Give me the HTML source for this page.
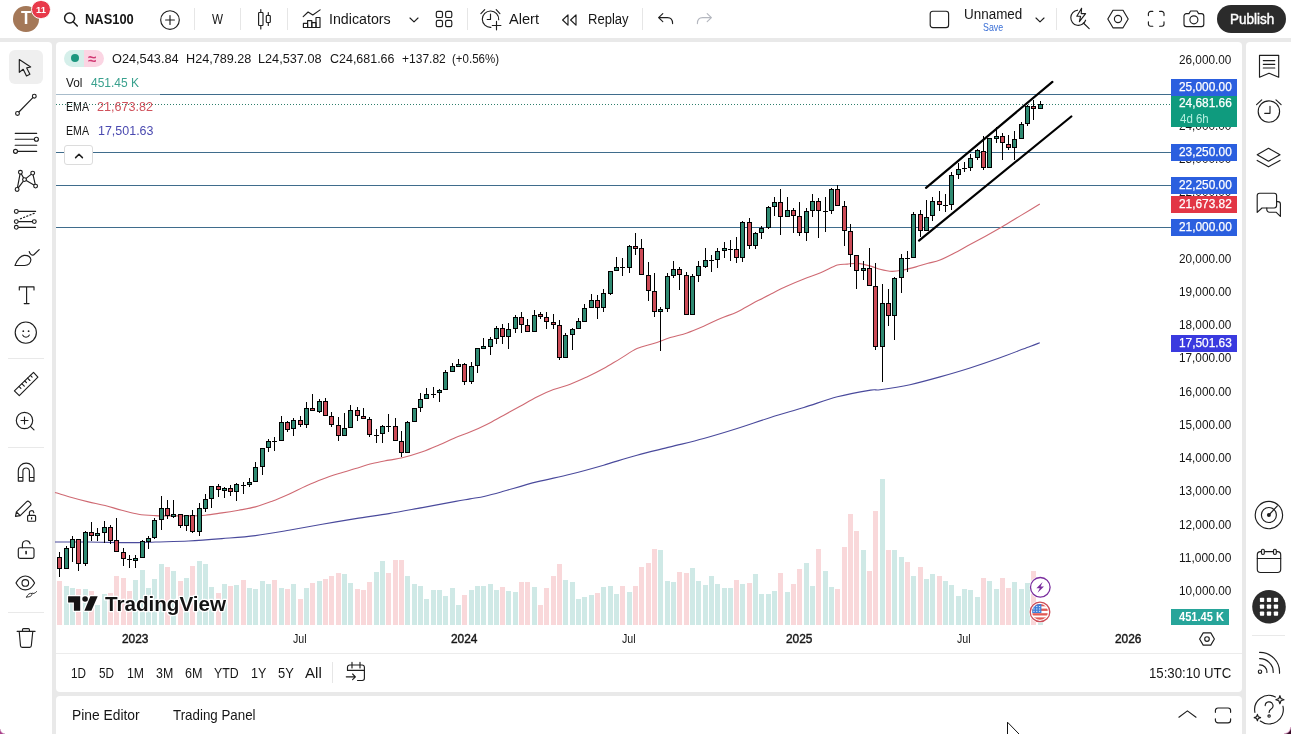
<!DOCTYPE html>
<html lang="en">
<head>
<meta charset="utf-8">
<title>NAS100 chart</title>
<style>
*{box-sizing:border-box;margin:0;padding:0}
html,body{width:1291px;height:734px;overflow:hidden;background:#e9e9e9}
body{position:relative;font-family:"Liberation Sans",sans-serif;color:#161616;font-size:14px}
.p{position:absolute;background:#fff}
.t{position:absolute;white-space:nowrap;line-height:1;transform:translateY(-50%)}
.sep{position:absolute;width:1px;background:#e6e6e6}
.hsep{position:absolute;height:1px;background:#e9e9e9}
svg{position:absolute;overflow:visible}
.ic{fill:none;stroke:#1e1e1e;stroke-width:1.15;stroke-linecap:round;stroke-linejoin:round}
.ax{position:absolute;white-space:nowrap;line-height:1;transform:translateY(-50%);font-size:12px;right:60px;color:#131722}
.lab{position:absolute;left:1171px;width:66px;height:17px;color:#fff;font-size:12px;line-height:17px;text-align:right;padding-right:5px;white-space:nowrap}
#t_sym{left:84.5px !important;transform:translateY(-50%) scaleX(0.9221);transform-origin:0 50%}
#t_w{left:212px !important;transform:translateY(-50%) scaleX(0.8322);transform-origin:0 50%}
#t_ind{left:329.3px !important;transform:translateY(-50%) scaleX(1.0164);transform-origin:0 50%}
#t_alert{left:509.3px !important;transform:translateY(-50%) scaleX(1.0418);transform-origin:0 50%}
#t_replay{left:587.7px !important;transform:translateY(-50%) scaleX(0.9313);transform-origin:0 50%}
#t_unnamed{left:963.7px !important;transform:translateY(-50%) scaleX(0.9604);transform-origin:0 50%}
#t_save{left:983.2px !important;transform:translateY(-50%) scaleX(0.8015);transform-origin:0 50%}
#t_publish{left:1229.8px !important;transform:translateY(-50%) scaleX(0.9625);transform-origin:0 50%}
#t_o{left:112.4px !important;transform:translateY(-50%) scaleX(0.9801);transform-origin:0 50%}
#t_h{left:185.6px !important;transform:translateY(-50%) scaleX(0.9727);transform-origin:0 50%}
#t_l{left:258px !important;transform:translateY(-50%) scaleX(0.9758);transform-origin:0 50%}
#t_c{left:329.5px !important;transform:translateY(-50%) scaleX(0.9593);transform-origin:0 50%}
#t_chg{left:402px !important;transform:translateY(-50%) scaleX(0.9248);transform-origin:0 50%}
#t_pct{left:451.8px !important;transform:translateY(-50%) scaleX(0.8847);transform-origin:0 50%}
#t_vol{left:65.6px !important;transform:translateY(-50%) scaleX(0.9072);transform-origin:0 50%}
#t_volv{left:91px !important;transform:translateY(-50%) scaleX(0.9222);transform-origin:0 50%}
#t_ema1{left:65.6px !important;transform:translateY(-50%) scaleX(0.8164);transform-origin:0 50%}
#t_ema1v{left:97.4px !important;transform:translateY(-50%) scaleX(0.9699);transform-origin:0 50%}
#t_ema2{left:65.6px !important;transform:translateY(-50%) scaleX(0.8164);transform-origin:0 50%}
#t_ema2v{left:98px !important;transform:translateY(-50%) scaleX(0.9595);transform-origin:0 50%}
#t_cd{left:1179.5px !important;transform:translateY(-50%) scaleX(0.9557);transform-origin:0 50%}
#t_lvol{left:1179.2px !important;transform:translateY(-50%) scaleX(0.9240);transform-origin:0 50%}
#t_y23{left:122px !important;transform:translateY(-50%) scaleX(0.9924);transform-origin:0 50%}
#t_j23{left:292.8px !important;transform:translateY(-50%) scaleX(0.8864);transform-origin:0 50%}
#t_y24{left:451px !important;transform:translateY(-50%) scaleX(0.9924);transform-origin:0 50%}
#t_j24{left:621.8px !important;transform:translateY(-50%) scaleX(0.8864);transform-origin:0 50%}
#t_y25{left:786.2px !important;transform:translateY(-50%) scaleX(0.9924);transform-origin:0 50%}
#t_j25{left:957.1px !important;transform:translateY(-50%) scaleX(0.8864);transform-origin:0 50%}
#t_y26{left:1115px !important;transform:translateY(-50%) scaleX(0.9924);transform-origin:0 50%}
#t_1d{left:70.5px !important;transform:translateY(-50%) scaleX(0.8377);transform-origin:0 50%}
#t_5d{left:98.5px !important;transform:translateY(-50%) scaleX(0.8377);transform-origin:0 50%}
#t_1m{left:126.7px !important;transform:translateY(-50%) scaleX(0.8739);transform-origin:0 50%}
#t_3m{left:155.5px !important;transform:translateY(-50%) scaleX(0.8842);transform-origin:0 50%}
#t_6m{left:184.5px !important;transform:translateY(-50%) scaleX(0.8996);transform-origin:0 50%}
#t_ytd{left:213.5px !important;transform:translateY(-50%) scaleX(0.8821);transform-origin:0 50%}
#t_1y{left:250.70000000000002px !important;transform:translateY(-50%) scaleX(0.8934);transform-origin:0 50%}
#t_5y{left:277.90000000000003px !important;transform:translateY(-50%) scaleX(0.9226);transform-origin:0 50%}
#t_all{left:304.7px !important;transform:translateY(-50%) scaleX(1.0795);transform-origin:0 50%}
#t_clock{left:1149px !important;transform:translateY(-50%) scaleX(0.9430);transform-origin:0 50%}
#t_pine{left:72.3px !important;transform:translateY(-50%) scaleX(0.9530);transform-origin:0 50%}
#t_tp{left:173.2px !important;transform:translateY(-50%) scaleX(0.9203);transform-origin:0 50%}
#t_p26{left:1179.2px !important;transform:translateY(-50%) scaleX(0.9814);transform-origin:0 50%}
#t_p24{left:1179.2px !important;transform:translateY(-50%) scaleX(0.9814);transform-origin:0 50%}
#t_p23{left:1179.2px !important;transform:translateY(-50%) scaleX(0.9814);transform-origin:0 50%}
#t_p22{left:1179.2px !important;transform:translateY(-50%) scaleX(0.9814);transform-origin:0 50%}
#t_p21{left:1179.2px !important;transform:translateY(-50%) scaleX(0.9814);transform-origin:0 50%}
#t_p20{left:1179.2px !important;transform:translateY(-50%) scaleX(0.9814);transform-origin:0 50%}
#t_p19{left:1179.2px !important;transform:translateY(-50%) scaleX(0.9814);transform-origin:0 50%}
#t_p18{left:1179.2px !important;transform:translateY(-50%) scaleX(0.9814);transform-origin:0 50%}
#t_p17{left:1179.2px !important;transform:translateY(-50%) scaleX(0.9814);transform-origin:0 50%}
#t_p16{left:1179.2px !important;transform:translateY(-50%) scaleX(0.9814);transform-origin:0 50%}
#t_p15{left:1179.2px !important;transform:translateY(-50%) scaleX(0.9814);transform-origin:0 50%}
#t_p14{left:1179.2px !important;transform:translateY(-50%) scaleX(0.9814);transform-origin:0 50%}
#t_p13{left:1179.2px !important;transform:translateY(-50%) scaleX(0.9814);transform-origin:0 50%}
#t_p12{left:1179.2px !important;transform:translateY(-50%) scaleX(0.9814);transform-origin:0 50%}
#t_p11{left:1179.2px !important;transform:translateY(-50%) scaleX(0.9981);transform-origin:0 50%}
#t_p10{left:1179.2px !important;transform:translateY(-50%) scaleX(0.9814);transform-origin:0 50%}
#t_l25{left:1179.3px !important;transform:translateY(-50%) scaleX(0.9889);transform-origin:0 50%}
#t_lcur{left:1179.3px !important;transform:translateY(-50%) scaleX(0.9889);transform-origin:0 50%}
#t_l2325{left:1179.3px !important;transform:translateY(-50%) scaleX(0.9889);transform-origin:0 50%}
#t_l2225{left:1179.3px !important;transform:translateY(-50%) scaleX(0.9889);transform-origin:0 50%}
#t_lema1{left:1179.3px !important;transform:translateY(-50%) scaleX(0.9889);transform-origin:0 50%}
#t_l21{left:1179.3px !important;transform:translateY(-50%) scaleX(0.9889);transform-origin:0 50%}
#t_lema2{left:1179.3px !important;transform:translateY(-50%) scaleX(0.9889);transform-origin:0 50%}
#t_av{left:20.7px !important;transform:translateY(-50%) scaleX(0.9436);transform-origin:0 50%}
#t_badge{left:35.6px !important;transform:translateY(-50%) scaleX(0.9953);transform-origin:0 50%}
</style>
</head>
<body>
<!-- panels -->
<div class="p" id="topbar" style="left:0;top:0;width:1291px;height:38px"></div>
<div class="p" id="leftbar" style="left:0;top:42px;width:52px;height:692px;border-radius:0 4px 0 0"></div>
<div class="p" id="chartp" style="left:56px;top:42px;width:1186px;height:650px;border-radius:4px"></div>
<div class="p" id="botp" style="left:56px;top:695.8px;width:1186px;height:38px;border-radius:4px 4px 0 0"></div>
<div class="p" id="rightbar" style="left:1246px;top:42px;width:45px;height:692px;border-radius:4px 0 0 0"></div>

<!-- chart drawing -->
<svg id="chart" width="1291" height="734" viewBox="0 0 1291 734" style="left:0;top:0">
<g shape-rendering="crispEdges">
<rect x="57" y="581.0" width="5" height="43.5" fill="#f9d8da"/>
<rect x="64" y="586.0" width="5" height="38.5" fill="#cfe9e6"/>
<rect x="70" y="588.0" width="5" height="36.5" fill="#cfe9e6"/>
<rect x="76" y="589.0" width="5" height="35.5" fill="#f9d8da"/>
<rect x="83" y="589.0" width="5" height="35.5" fill="#cfe9e6"/>
<rect x="89" y="591.0" width="5" height="33.5" fill="#f9d8da"/>
<rect x="95" y="604.5" width="5" height="20.0" fill="#cfe9e6"/>
<rect x="102" y="594.0" width="5" height="30.5" fill="#cfe9e6"/>
<rect x="108" y="593.0" width="5" height="31.5" fill="#f9d8da"/>
<rect x="114" y="576.4" width="5" height="48.1" fill="#f9d8da"/>
<rect x="121" y="578.0" width="5" height="46.5" fill="#f9d8da"/>
<rect x="127" y="591.0" width="5" height="33.5" fill="#f9d8da"/>
<rect x="133" y="580.0" width="5" height="44.5" fill="#cfe9e6"/>
<rect x="140" y="570.0" width="5" height="54.5" fill="#cfe9e6"/>
<rect x="146" y="588.0" width="5" height="36.5" fill="#cfe9e6"/>
<rect x="152" y="579.0" width="5" height="45.5" fill="#cfe9e6"/>
<rect x="159" y="564.0" width="5" height="60.5" fill="#cfe9e6"/>
<rect x="165" y="567.4" width="5" height="57.1" fill="#f9d8da"/>
<rect x="171" y="571.0" width="5" height="53.5" fill="#cfe9e6"/>
<rect x="178" y="581.0" width="5" height="43.5" fill="#f9d8da"/>
<rect x="184" y="578.0" width="5" height="46.5" fill="#cfe9e6"/>
<rect x="190" y="566.0" width="5" height="58.5" fill="#f9d8da"/>
<rect x="197" y="561.0" width="5" height="63.5" fill="#cfe9e6"/>
<rect x="203" y="564.0" width="5" height="60.5" fill="#cfe9e6"/>
<rect x="209" y="587.0" width="5" height="37.5" fill="#cfe9e6"/>
<rect x="216" y="593.0" width="5" height="31.5" fill="#f9d8da"/>
<rect x="222" y="584.0" width="5" height="40.5" fill="#cfe9e6"/>
<rect x="228" y="586.0" width="5" height="38.5" fill="#f9d8da"/>
<rect x="234" y="585.0" width="5" height="39.5" fill="#cfe9e6"/>
<rect x="241" y="580.0" width="5" height="44.5" fill="#f9d8da"/>
<rect x="247" y="588.0" width="5" height="36.5" fill="#cfe9e6"/>
<rect x="253" y="589.0" width="5" height="35.5" fill="#cfe9e6"/>
<rect x="260" y="581.0" width="5" height="43.5" fill="#cfe9e6"/>
<rect x="266" y="584.0" width="5" height="40.5" fill="#cfe9e6"/>
<rect x="272" y="580.0" width="5" height="44.5" fill="#f9d8da"/>
<rect x="279" y="588.0" width="5" height="36.5" fill="#cfe9e6"/>
<rect x="285" y="589.0" width="5" height="35.5" fill="#f9d8da"/>
<rect x="291" y="584.0" width="5" height="40.5" fill="#cfe9e6"/>
<rect x="298" y="599.0" width="5" height="25.5" fill="#f9d8da"/>
<rect x="304" y="588.0" width="5" height="36.5" fill="#cfe9e6"/>
<rect x="310" y="583.0" width="5" height="41.5" fill="#f9d8da"/>
<rect x="317" y="581.0" width="5" height="43.5" fill="#cfe9e6"/>
<rect x="323" y="579.0" width="5" height="45.5" fill="#f9d8da"/>
<rect x="329" y="576.0" width="5" height="48.5" fill="#f9d8da"/>
<rect x="336" y="573.0" width="5" height="51.5" fill="#f9d8da"/>
<rect x="342" y="574.0" width="5" height="50.5" fill="#cfe9e6"/>
<rect x="348" y="583.0" width="5" height="41.5" fill="#cfe9e6"/>
<rect x="355" y="589.0" width="5" height="35.5" fill="#f9d8da"/>
<rect x="361" y="590.0" width="5" height="34.5" fill="#f9d8da"/>
<rect x="367" y="582.0" width="5" height="42.5" fill="#f9d8da"/>
<rect x="374" y="572.0" width="5" height="52.5" fill="#cfe9e6"/>
<rect x="380" y="561.0" width="5" height="63.5" fill="#cfe9e6"/>
<rect x="386" y="573.0" width="5" height="51.5" fill="#f9d8da"/>
<rect x="393" y="560.0" width="5" height="64.5" fill="#f9d8da"/>
<rect x="399" y="560.0" width="5" height="64.5" fill="#f9d8da"/>
<rect x="405" y="576.0" width="5" height="48.5" fill="#cfe9e6"/>
<rect x="412" y="584.0" width="5" height="40.5" fill="#cfe9e6"/>
<rect x="418" y="586.0" width="5" height="38.5" fill="#cfe9e6"/>
<rect x="424" y="599.0" width="5" height="25.5" fill="#cfe9e6"/>
<rect x="431" y="590.0" width="5" height="34.5" fill="#cfe9e6"/>
<rect x="437" y="590.0" width="5" height="34.5" fill="#cfe9e6"/>
<rect x="443" y="596.0" width="5" height="28.5" fill="#cfe9e6"/>
<rect x="450" y="588.0" width="5" height="36.5" fill="#cfe9e6"/>
<rect x="456" y="605.0" width="5" height="19.5" fill="#cfe9e6"/>
<rect x="462" y="595.0" width="5" height="29.5" fill="#f9d8da"/>
<rect x="469" y="590.0" width="5" height="34.5" fill="#cfe9e6"/>
<rect x="475" y="586.0" width="5" height="38.5" fill="#cfe9e6"/>
<rect x="481" y="586.0" width="5" height="38.5" fill="#cfe9e6"/>
<rect x="488" y="584.0" width="5" height="40.5" fill="#cfe9e6"/>
<rect x="494" y="590.0" width="5" height="34.5" fill="#cfe9e6"/>
<rect x="500" y="587.0" width="5" height="37.5" fill="#f9d8da"/>
<rect x="506" y="591.0" width="5" height="33.5" fill="#cfe9e6"/>
<rect x="513" y="592.0" width="5" height="32.5" fill="#cfe9e6"/>
<rect x="519" y="582.0" width="5" height="42.5" fill="#f9d8da"/>
<rect x="525" y="582.0" width="5" height="42.5" fill="#f9d8da"/>
<rect x="532" y="587.0" width="5" height="37.5" fill="#cfe9e6"/>
<rect x="538" y="604.5" width="5" height="20.0" fill="#f9d8da"/>
<rect x="544" y="588.0" width="5" height="36.5" fill="#f9d8da"/>
<rect x="551" y="576.0" width="5" height="48.5" fill="#f9d8da"/>
<rect x="557" y="564.0" width="5" height="60.5" fill="#f9d8da"/>
<rect x="563" y="580.0" width="5" height="44.5" fill="#cfe9e6"/>
<rect x="570" y="582.0" width="5" height="42.5" fill="#cfe9e6"/>
<rect x="576" y="599.0" width="5" height="25.5" fill="#cfe9e6"/>
<rect x="582" y="597.0" width="5" height="27.5" fill="#cfe9e6"/>
<rect x="589" y="595.0" width="5" height="29.5" fill="#cfe9e6"/>
<rect x="595" y="593.0" width="5" height="31.5" fill="#f9d8da"/>
<rect x="601" y="587.0" width="5" height="37.5" fill="#cfe9e6"/>
<rect x="608" y="586.0" width="5" height="38.5" fill="#cfe9e6"/>
<rect x="614" y="594.0" width="5" height="30.5" fill="#cfe9e6"/>
<rect x="620" y="586.0" width="5" height="38.5" fill="#f9d8da"/>
<rect x="627" y="592.0" width="5" height="32.5" fill="#cfe9e6"/>
<rect x="633" y="586.0" width="5" height="38.5" fill="#f9d8da"/>
<rect x="639" y="567.0" width="5" height="57.5" fill="#f9d8da"/>
<rect x="646" y="563.0" width="5" height="61.5" fill="#f9d8da"/>
<rect x="652" y="549.0" width="5" height="75.5" fill="#f9d8da"/>
<rect x="658" y="550.0" width="5" height="74.5" fill="#cfe9e6"/>
<rect x="665" y="581.0" width="5" height="43.5" fill="#cfe9e6"/>
<rect x="671" y="582.0" width="5" height="42.5" fill="#cfe9e6"/>
<rect x="677" y="572.0" width="5" height="52.5" fill="#f9d8da"/>
<rect x="684" y="573.0" width="5" height="51.5" fill="#f9d8da"/>
<rect x="690" y="568.0" width="5" height="56.5" fill="#cfe9e6"/>
<rect x="696" y="581.0" width="5" height="43.5" fill="#cfe9e6"/>
<rect x="703" y="585.0" width="5" height="39.5" fill="#cfe9e6"/>
<rect x="709" y="576.0" width="5" height="48.5" fill="#cfe9e6"/>
<rect x="715" y="584.0" width="5" height="40.5" fill="#cfe9e6"/>
<rect x="722" y="588.0" width="5" height="36.5" fill="#cfe9e6"/>
<rect x="728" y="588.0" width="5" height="36.5" fill="#cfe9e6"/>
<rect x="734" y="580.0" width="5" height="44.5" fill="#f9d8da"/>
<rect x="740" y="584.0" width="5" height="40.5" fill="#cfe9e6"/>
<rect x="747" y="583.0" width="5" height="41.5" fill="#f9d8da"/>
<rect x="753" y="574.0" width="5" height="50.5" fill="#cfe9e6"/>
<rect x="759" y="594.0" width="5" height="30.5" fill="#cfe9e6"/>
<rect x="766" y="594.0" width="5" height="30.5" fill="#cfe9e6"/>
<rect x="772" y="591.0" width="5" height="33.5" fill="#cfe9e6"/>
<rect x="778" y="573.0" width="5" height="51.5" fill="#f9d8da"/>
<rect x="785" y="592.0" width="5" height="32.5" fill="#cfe9e6"/>
<rect x="791" y="584.0" width="5" height="40.5" fill="#f9d8da"/>
<rect x="797" y="569.3" width="5" height="55.2" fill="#f9d8da"/>
<rect x="804" y="563.2" width="5" height="61.3" fill="#cfe9e6"/>
<rect x="810" y="586.0" width="5" height="38.5" fill="#cfe9e6"/>
<rect x="816" y="549.0" width="5" height="75.5" fill="#f9d8da"/>
<rect x="823" y="571.0" width="5" height="53.5" fill="#cfe9e6"/>
<rect x="829" y="587.2" width="5" height="37.3" fill="#cfe9e6"/>
<rect x="835" y="588.9" width="5" height="35.6" fill="#f9d8da"/>
<rect x="842" y="547.2" width="5" height="77.3" fill="#f9d8da"/>
<rect x="848" y="514.1" width="5" height="110.4" fill="#f9d8da"/>
<rect x="854" y="531.3" width="5" height="93.2" fill="#f9d8da"/>
<rect x="861" y="550.2" width="5" height="74.3" fill="#cfe9e6"/>
<rect x="867" y="571.0" width="5" height="53.5" fill="#f9d8da"/>
<rect x="873" y="510.5" width="5" height="114.0" fill="#f9d8da"/>
<rect x="880" y="479.1" width="5" height="145.4" fill="#cfe9e6"/>
<rect x="886" y="550.2" width="5" height="74.3" fill="#f9d8da"/>
<rect x="892" y="550.2" width="5" height="74.3" fill="#cfe9e6"/>
<rect x="899" y="557.0" width="5" height="67.5" fill="#cfe9e6"/>
<rect x="905" y="561.9" width="5" height="62.6" fill="#f9d8da"/>
<rect x="911" y="575.9" width="5" height="48.6" fill="#cfe9e6"/>
<rect x="918" y="567.3" width="5" height="57.2" fill="#f9d8da"/>
<rect x="924" y="579.1" width="5" height="45.4" fill="#cfe9e6"/>
<rect x="930" y="574.2" width="5" height="50.3" fill="#cfe9e6"/>
<rect x="937" y="575.9" width="5" height="48.6" fill="#f9d8da"/>
<rect x="943" y="581.0" width="5" height="43.5" fill="#cfe9e6"/>
<rect x="949" y="585.2" width="5" height="39.3" fill="#cfe9e6"/>
<rect x="956" y="595.8" width="5" height="28.7" fill="#cfe9e6"/>
<rect x="962" y="588.9" width="5" height="35.6" fill="#cfe9e6"/>
<rect x="968" y="590.1" width="5" height="34.4" fill="#cfe9e6"/>
<rect x="975" y="597.0" width="5" height="27.5" fill="#cfe9e6"/>
<rect x="981" y="577.9" width="5" height="46.6" fill="#f9d8da"/>
<rect x="987" y="581.0" width="5" height="43.5" fill="#cfe9e6"/>
<rect x="994" y="588.9" width="5" height="35.6" fill="#cfe9e6"/>
<rect x="1000" y="577.9" width="5" height="46.6" fill="#f9d8da"/>
<rect x="1006" y="588.2" width="5" height="36.3" fill="#f9d8da"/>
<rect x="1012" y="582.0" width="5" height="42.5" fill="#cfe9e6"/>
<rect x="1019" y="588.9" width="5" height="35.6" fill="#cfe9e6"/>
<rect x="1025" y="582.8" width="5" height="41.7" fill="#cfe9e6"/>
<rect x="1031" y="571.0" width="5" height="53.5" fill="#f9d8da"/>
<rect x="1038" y="617.0" width="5" height="7.5" fill="#cfe9e6"/>
<rect x="56" y="94.0" width="1115" height="1" fill="#3f6c8c"/>
<rect x="56" y="152.0" width="1115" height="1" fill="#3f6c8c"/>
<rect x="56" y="185.0" width="1115" height="1" fill="#3f6c8c"/>
<rect x="56" y="227.0" width="1115" height="1" fill="#3f6c8c"/>
<line x1="56" y1="104.5" x2="1171" y2="104.5" stroke="#2f7f6c" stroke-width="1" stroke-dasharray="1 2"/>
</g>
<path d="M55.0,492.5 C57.8,493.3 66.1,495.9 71.7,497.5 C77.3,499.1 82.8,500.6 88.4,501.9 C94.0,503.2 99.5,504.1 105.1,505.5 C110.7,506.9 116.2,508.8 121.8,510.2 C127.4,511.6 132.9,513.3 138.5,514.2 C144.1,515.1 149.6,515.3 155.2,515.6 C160.8,515.9 166.3,515.9 171.9,515.9 C177.5,515.9 183.0,516.0 188.6,515.9 C194.2,515.8 199.7,515.7 205.3,515.2 C210.9,514.7 216.4,513.7 222.0,512.9 C227.6,512.1 233.1,511.2 238.7,510.2 C244.3,509.2 249.8,508.4 255.4,506.9 C261.0,505.4 266.5,503.3 272.1,501.2 C277.7,499.1 283.2,496.7 288.8,494.2 C294.4,491.7 299.9,488.7 305.5,486.2 C311.1,483.7 316.6,481.3 322.2,479.2 C327.8,477.1 333.3,475.3 338.9,473.5 C344.5,471.7 350.0,470.2 355.6,468.5 C361.2,466.8 366.7,464.9 372.3,463.5 C377.9,462.1 384.0,461.1 389.0,460.1 C394.0,459.2 396.7,459.2 402.3,457.8 C407.9,456.4 416.3,453.9 422.4,451.8 C428.5,449.7 433.4,447.5 439.0,445.1 C444.6,442.7 450.5,439.6 455.7,437.4 C460.9,435.2 464.8,434.3 470.0,432.1 C475.2,429.9 481.1,427.2 486.7,424.4 C492.3,421.6 497.8,418.4 503.4,415.4 C509.0,412.4 514.5,409.4 520.1,406.3 C525.7,403.2 531.2,399.8 536.8,397.0 C542.4,394.2 547.9,391.7 553.5,389.6 C559.1,387.5 564.6,386.4 570.2,384.3 C575.8,382.2 581.3,379.6 586.9,377.0 C592.5,374.4 598.0,371.7 603.6,368.6 C609.2,365.5 614.7,361.9 620.3,358.6 C625.9,355.3 631.5,351.1 637.0,348.6 C642.5,346.1 648.1,345.4 653.6,343.6 C659.1,341.8 664.7,339.4 670.3,337.6 C675.9,335.8 681.4,334.8 687.0,332.9 C692.6,331.0 698.1,328.6 703.7,326.2 C709.3,323.8 714.8,320.9 720.4,318.5 C726.0,316.1 731.5,314.5 737.1,311.9 C742.7,309.3 748.2,305.8 753.8,302.8 C759.4,299.9 764.9,297.0 770.5,294.2 C776.1,291.4 781.6,288.6 787.2,286.1 C792.8,283.6 798.3,281.3 803.9,279.1 C809.5,276.9 815.0,275.1 820.6,272.8 C826.2,270.5 832.8,266.6 837.3,265.1 C841.8,263.7 844.0,264.4 847.3,264.1 C850.6,263.8 853.4,263.1 857.3,263.4 C861.2,263.7 866.9,265.1 870.7,266.1 C874.5,267.1 876.5,268.4 880.0,269.3 C883.5,270.2 888.0,271.3 892.0,271.4 C896.0,271.5 900.0,270.6 904.0,269.9 C908.0,269.1 912.0,268.0 916.0,266.9 C920.0,265.8 924.0,264.4 928.0,263.3 C932.0,262.2 935.5,261.8 940.0,260.0 C944.5,258.2 950.0,255.4 955.0,252.8 C960.0,250.2 965.0,247.1 970.0,244.4 C975.0,241.7 980.0,239.1 985.0,236.4 C990.0,233.7 995.0,230.9 1000.0,228.0 C1005.0,225.1 1010.0,222.0 1015.0,219.0 C1020.0,216.0 1025.9,212.5 1030.0,210.0 C1034.1,207.5 1038.2,205.0 1039.8,204.0" fill="none" stroke="#cf6a73" stroke-width="1.1"/>
<path d="M55.0,542.0 C60.6,542.0 77.3,541.9 88.4,542.0 C99.5,542.1 113.5,542.5 121.8,542.6 C130.2,542.7 132.9,542.7 138.5,542.6 C144.1,542.5 146.8,542.3 155.2,542.0 C163.5,541.7 177.5,541.6 188.6,541.0 C199.7,540.4 210.9,539.5 222.0,538.6 C233.1,537.7 244.3,537.0 255.4,535.6 C266.5,534.2 277.7,532.2 288.8,530.3 C299.9,528.4 311.1,526.2 322.2,524.3 C333.3,522.3 344.5,520.4 355.6,518.6 C366.7,516.8 377.9,515.4 389.0,513.6 C400.1,511.8 411.3,509.6 422.4,507.6 C433.5,505.6 447.8,502.8 455.7,501.4 C463.6,499.9 465.1,499.8 470.0,498.9 C474.9,498.0 479.4,497.5 485.0,496.2 C490.6,494.9 494.8,493.7 503.4,491.3 C512.0,488.9 525.7,484.7 536.8,481.9 C547.9,479.1 559.1,477.1 570.2,474.3 C581.3,471.5 592.5,468.4 603.6,465.2 C614.7,462.0 625.9,458.2 637.0,455.2 C648.1,452.1 659.2,449.7 670.3,446.9 C681.4,444.1 692.6,441.6 703.7,438.5 C714.8,435.4 726.0,432.0 737.1,428.5 C748.2,425.0 759.4,421.0 770.5,417.5 C781.6,414.0 792.8,410.9 803.9,407.5 C815.0,404.1 826.2,399.7 837.3,396.8 C848.4,393.9 863.6,391.3 870.7,390.1 C877.8,388.9 873.5,390.7 880.0,389.8 C886.5,388.9 900.0,386.9 910.0,384.7 C920.0,382.5 930.0,379.7 940.0,376.9 C950.0,374.1 960.0,371.2 970.0,368.0 C980.0,364.8 990.0,361.4 1000.0,357.8 C1010.0,354.2 1023.4,348.9 1030.0,346.4 C1036.6,343.9 1038.2,343.4 1039.8,342.8" fill="none" stroke="#4a4a9c" stroke-width="1.1"/>
<g shape-rendering="crispEdges">
<rect x="59" y="552" width="1" height="25" fill="#000"/>
<rect x="57" y="557" width="5" height="12" fill="#000"/>
<rect x="58" y="558" width="3" height="10" fill="#cc4b57"/>
<rect x="66" y="546" width="1" height="23" fill="#000"/>
<rect x="64" y="548" width="5" height="21" fill="#000"/>
<rect x="65" y="549" width="3" height="19" fill="#2f8a72"/>
<rect x="72" y="536" width="1" height="26" fill="#000"/>
<rect x="70" y="539" width="5" height="9" fill="#000"/>
<rect x="71" y="540" width="3" height="7" fill="#2f8a72"/>
<rect x="78" y="539" width="1" height="32" fill="#000"/>
<rect x="76" y="539" width="5" height="25" fill="#000"/>
<rect x="77" y="540" width="3" height="23" fill="#cc4b57"/>
<rect x="85" y="531" width="1" height="35" fill="#000"/>
<rect x="83" y="532" width="5" height="32" fill="#000"/>
<rect x="84" y="533" width="3" height="30" fill="#2f8a72"/>
<rect x="91" y="522" width="1" height="19" fill="#000"/>
<rect x="89" y="532" width="5" height="4" fill="#000"/>
<rect x="90" y="533" width="3" height="2" fill="#cc4b57"/>
<rect x="97" y="528" width="1" height="13" fill="#000"/>
<rect x="95" y="533" width="5" height="3" fill="#000"/>
<rect x="96" y="534" width="3" height="1" fill="#2f8a72"/>
<rect x="104" y="521" width="1" height="22" fill="#000"/>
<rect x="102" y="527" width="5" height="6" fill="#000"/>
<rect x="103" y="528" width="3" height="4" fill="#2f8a72"/>
<rect x="110" y="525" width="1" height="19" fill="#000"/>
<rect x="108" y="527" width="5" height="14" fill="#000"/>
<rect x="109" y="528" width="3" height="12" fill="#cc4b57"/>
<rect x="116" y="518" width="1" height="34" fill="#000"/>
<rect x="114" y="540" width="5" height="12" fill="#000"/>
<rect x="115" y="541" width="3" height="10" fill="#cc4b57"/>
<rect x="123" y="548" width="1" height="18" fill="#000"/>
<rect x="121" y="552" width="5" height="7" fill="#000"/>
<rect x="122" y="553" width="3" height="5" fill="#cc4b57"/>
<rect x="129" y="555" width="1" height="13" fill="#000"/>
<rect x="127" y="559" width="5" height="1" fill="#000"/>
<rect x="135" y="555" width="1" height="13" fill="#000"/>
<rect x="133" y="558" width="5" height="3" fill="#000"/>
<rect x="134" y="559" width="3" height="1" fill="#2f8a72"/>
<rect x="142" y="540" width="1" height="18" fill="#000"/>
<rect x="140" y="541" width="5" height="17" fill="#000"/>
<rect x="141" y="542" width="3" height="15" fill="#2f8a72"/>
<rect x="148" y="536" width="1" height="13" fill="#000"/>
<rect x="146" y="538" width="5" height="4" fill="#000"/>
<rect x="147" y="539" width="3" height="2" fill="#2f8a72"/>
<rect x="154" y="518" width="1" height="21" fill="#000"/>
<rect x="152" y="520" width="5" height="18" fill="#000"/>
<rect x="153" y="521" width="3" height="16" fill="#2f8a72"/>
<rect x="161" y="496" width="1" height="34" fill="#000"/>
<rect x="159" y="508" width="5" height="12" fill="#000"/>
<rect x="160" y="509" width="3" height="10" fill="#2f8a72"/>
<rect x="167" y="500" width="1" height="19" fill="#000"/>
<rect x="165" y="508" width="5" height="8" fill="#000"/>
<rect x="166" y="509" width="3" height="6" fill="#cc4b57"/>
<rect x="173" y="500" width="1" height="18" fill="#000"/>
<rect x="171" y="514" width="5" height="3" fill="#000"/>
<rect x="172" y="515" width="3" height="1" fill="#2f8a72"/>
<rect x="180" y="514" width="1" height="14" fill="#000"/>
<rect x="178" y="514" width="5" height="12" fill="#000"/>
<rect x="179" y="515" width="3" height="10" fill="#cc4b57"/>
<rect x="186" y="515" width="1" height="16" fill="#000"/>
<rect x="184" y="515" width="5" height="11" fill="#000"/>
<rect x="185" y="516" width="3" height="9" fill="#2f8a72"/>
<rect x="192" y="510" width="1" height="23" fill="#000"/>
<rect x="190" y="515" width="5" height="17" fill="#000"/>
<rect x="191" y="516" width="3" height="15" fill="#cc4b57"/>
<rect x="199" y="503" width="1" height="33" fill="#000"/>
<rect x="197" y="508" width="5" height="24" fill="#000"/>
<rect x="198" y="509" width="3" height="22" fill="#2f8a72"/>
<rect x="205" y="494" width="1" height="18" fill="#000"/>
<rect x="203" y="499" width="5" height="10" fill="#000"/>
<rect x="204" y="500" width="3" height="8" fill="#2f8a72"/>
<rect x="211" y="486" width="1" height="22" fill="#000"/>
<rect x="209" y="486" width="5" height="13" fill="#000"/>
<rect x="210" y="487" width="3" height="11" fill="#2f8a72"/>
<rect x="218" y="484" width="1" height="13" fill="#000"/>
<rect x="216" y="486" width="5" height="4" fill="#000"/>
<rect x="217" y="487" width="3" height="2" fill="#cc4b57"/>
<rect x="224" y="487" width="1" height="11" fill="#000"/>
<rect x="222" y="488" width="5" height="3" fill="#000"/>
<rect x="223" y="489" width="3" height="1" fill="#2f8a72"/>
<rect x="230" y="485" width="1" height="11" fill="#000"/>
<rect x="228" y="488" width="5" height="4" fill="#000"/>
<rect x="229" y="489" width="3" height="2" fill="#cc4b57"/>
<rect x="236" y="483" width="1" height="18" fill="#000"/>
<rect x="234" y="484" width="5" height="8" fill="#000"/>
<rect x="235" y="485" width="3" height="6" fill="#2f8a72"/>
<rect x="243" y="482" width="1" height="12" fill="#000"/>
<rect x="241" y="485" width="5" height="1" fill="#000"/>
<rect x="249" y="478" width="1" height="9" fill="#000"/>
<rect x="247" y="482" width="5" height="3" fill="#000"/>
<rect x="248" y="483" width="3" height="1" fill="#2f8a72"/>
<rect x="255" y="462" width="1" height="20" fill="#000"/>
<rect x="253" y="467" width="5" height="15" fill="#000"/>
<rect x="254" y="468" width="3" height="13" fill="#2f8a72"/>
<rect x="262" y="448" width="1" height="27" fill="#000"/>
<rect x="260" y="448" width="5" height="19" fill="#000"/>
<rect x="261" y="449" width="3" height="17" fill="#2f8a72"/>
<rect x="268" y="439" width="1" height="13" fill="#000"/>
<rect x="266" y="441" width="5" height="7" fill="#000"/>
<rect x="267" y="442" width="3" height="5" fill="#2f8a72"/>
<rect x="274" y="437" width="1" height="14" fill="#000"/>
<rect x="272" y="441" width="5" height="1" fill="#000"/>
<rect x="281" y="416" width="1" height="25" fill="#000"/>
<rect x="279" y="422" width="5" height="19" fill="#000"/>
<rect x="280" y="423" width="3" height="17" fill="#2f8a72"/>
<rect x="287" y="421" width="1" height="11" fill="#000"/>
<rect x="285" y="422" width="5" height="8" fill="#000"/>
<rect x="286" y="423" width="3" height="6" fill="#cc4b57"/>
<rect x="293" y="418" width="1" height="18" fill="#000"/>
<rect x="291" y="420" width="5" height="9" fill="#000"/>
<rect x="292" y="421" width="3" height="7" fill="#2f8a72"/>
<rect x="300" y="416" width="1" height="11" fill="#000"/>
<rect x="298" y="420" width="5" height="5" fill="#000"/>
<rect x="299" y="421" width="3" height="3" fill="#cc4b57"/>
<rect x="306" y="402" width="1" height="26" fill="#000"/>
<rect x="304" y="408" width="5" height="17" fill="#000"/>
<rect x="305" y="409" width="3" height="15" fill="#2f8a72"/>
<rect x="312" y="394" width="1" height="17" fill="#000"/>
<rect x="310" y="408" width="5" height="3" fill="#000"/>
<rect x="311" y="409" width="3" height="1" fill="#cc4b57"/>
<rect x="319" y="399" width="1" height="14" fill="#000"/>
<rect x="317" y="401" width="5" height="11" fill="#000"/>
<rect x="318" y="402" width="3" height="9" fill="#2f8a72"/>
<rect x="325" y="398" width="1" height="18" fill="#000"/>
<rect x="323" y="401" width="5" height="15" fill="#000"/>
<rect x="324" y="402" width="3" height="13" fill="#cc4b57"/>
<rect x="331" y="412" width="1" height="15" fill="#000"/>
<rect x="329" y="416" width="5" height="9" fill="#000"/>
<rect x="330" y="417" width="3" height="7" fill="#cc4b57"/>
<rect x="338" y="417" width="1" height="24" fill="#000"/>
<rect x="336" y="425" width="5" height="11" fill="#000"/>
<rect x="337" y="426" width="3" height="9" fill="#cc4b57"/>
<rect x="344" y="413" width="1" height="23" fill="#000"/>
<rect x="342" y="428" width="5" height="8" fill="#000"/>
<rect x="343" y="429" width="3" height="6" fill="#2f8a72"/>
<rect x="350" y="405" width="1" height="23" fill="#000"/>
<rect x="348" y="410" width="5" height="18" fill="#000"/>
<rect x="349" y="411" width="3" height="16" fill="#2f8a72"/>
<rect x="357" y="407" width="1" height="14" fill="#000"/>
<rect x="355" y="410" width="5" height="6" fill="#000"/>
<rect x="356" y="411" width="3" height="4" fill="#cc4b57"/>
<rect x="363" y="408" width="1" height="11" fill="#000"/>
<rect x="361" y="416" width="5" height="3" fill="#000"/>
<rect x="362" y="417" width="3" height="1" fill="#cc4b57"/>
<rect x="369" y="417" width="1" height="20" fill="#000"/>
<rect x="367" y="419" width="5" height="16" fill="#000"/>
<rect x="368" y="420" width="3" height="14" fill="#cc4b57"/>
<rect x="376" y="429" width="1" height="14" fill="#000"/>
<rect x="374" y="435" width="5" height="1" fill="#000"/>
<rect x="382" y="425" width="1" height="18" fill="#000"/>
<rect x="380" y="426" width="5" height="8" fill="#000"/>
<rect x="381" y="427" width="3" height="6" fill="#2f8a72"/>
<rect x="388" y="414" width="1" height="18" fill="#000"/>
<rect x="386" y="426" width="5" height="1" fill="#000"/>
<rect x="395" y="418" width="1" height="23" fill="#000"/>
<rect x="393" y="426" width="5" height="15" fill="#000"/>
<rect x="394" y="427" width="3" height="13" fill="#cc4b57"/>
<rect x="401" y="431" width="1" height="26" fill="#000"/>
<rect x="399" y="441" width="5" height="12" fill="#000"/>
<rect x="400" y="442" width="3" height="10" fill="#cc4b57"/>
<rect x="407" y="421" width="1" height="32" fill="#000"/>
<rect x="405" y="422" width="5" height="31" fill="#000"/>
<rect x="406" y="423" width="3" height="29" fill="#2f8a72"/>
<rect x="414" y="408" width="1" height="14" fill="#000"/>
<rect x="412" y="408" width="5" height="14" fill="#000"/>
<rect x="413" y="409" width="3" height="12" fill="#2f8a72"/>
<rect x="420" y="393" width="1" height="19" fill="#000"/>
<rect x="418" y="399" width="5" height="9" fill="#000"/>
<rect x="419" y="400" width="3" height="7" fill="#2f8a72"/>
<rect x="426" y="388" width="1" height="11" fill="#000"/>
<rect x="424" y="394" width="5" height="5" fill="#000"/>
<rect x="425" y="395" width="3" height="3" fill="#2f8a72"/>
<rect x="433" y="387" width="1" height="11" fill="#000"/>
<rect x="431" y="394" width="5" height="1" fill="#000"/>
<rect x="439" y="389" width="1" height="13" fill="#000"/>
<rect x="437" y="390" width="5" height="3" fill="#000"/>
<rect x="438" y="391" width="3" height="1" fill="#2f8a72"/>
<rect x="445" y="370" width="1" height="20" fill="#000"/>
<rect x="443" y="372" width="5" height="18" fill="#000"/>
<rect x="444" y="373" width="3" height="16" fill="#2f8a72"/>
<rect x="452" y="363" width="1" height="9" fill="#000"/>
<rect x="450" y="366" width="5" height="6" fill="#000"/>
<rect x="451" y="367" width="3" height="4" fill="#2f8a72"/>
<rect x="458" y="359" width="1" height="7" fill="#000"/>
<rect x="456" y="364" width="5" height="3" fill="#000"/>
<rect x="457" y="365" width="3" height="1" fill="#2f8a72"/>
<rect x="464" y="363" width="1" height="22" fill="#000"/>
<rect x="462" y="364" width="5" height="18" fill="#000"/>
<rect x="463" y="365" width="3" height="16" fill="#cc4b57"/>
<rect x="471" y="362" width="1" height="22" fill="#000"/>
<rect x="469" y="366" width="5" height="16" fill="#000"/>
<rect x="470" y="367" width="3" height="14" fill="#2f8a72"/>
<rect x="477" y="348" width="1" height="25" fill="#000"/>
<rect x="475" y="348" width="5" height="18" fill="#000"/>
<rect x="476" y="349" width="3" height="16" fill="#2f8a72"/>
<rect x="483" y="338" width="1" height="10" fill="#000"/>
<rect x="481" y="346" width="5" height="3" fill="#000"/>
<rect x="482" y="347" width="3" height="1" fill="#2f8a72"/>
<rect x="490" y="337" width="1" height="18" fill="#000"/>
<rect x="488" y="339" width="5" height="8" fill="#000"/>
<rect x="489" y="340" width="3" height="6" fill="#2f8a72"/>
<rect x="496" y="326" width="1" height="18" fill="#000"/>
<rect x="494" y="328" width="5" height="11" fill="#000"/>
<rect x="495" y="329" width="3" height="9" fill="#2f8a72"/>
<rect x="502" y="324" width="1" height="20" fill="#000"/>
<rect x="500" y="328" width="5" height="9" fill="#000"/>
<rect x="501" y="329" width="3" height="7" fill="#cc4b57"/>
<rect x="508" y="323" width="1" height="26" fill="#000"/>
<rect x="506" y="329" width="5" height="8" fill="#000"/>
<rect x="507" y="330" width="3" height="6" fill="#2f8a72"/>
<rect x="515" y="315" width="1" height="18" fill="#000"/>
<rect x="513" y="317" width="5" height="12" fill="#000"/>
<rect x="514" y="318" width="3" height="10" fill="#2f8a72"/>
<rect x="521" y="312" width="1" height="21" fill="#000"/>
<rect x="519" y="317" width="5" height="8" fill="#000"/>
<rect x="520" y="318" width="3" height="6" fill="#cc4b57"/>
<rect x="527" y="319" width="1" height="13" fill="#000"/>
<rect x="525" y="325" width="5" height="7" fill="#000"/>
<rect x="526" y="326" width="3" height="5" fill="#cc4b57"/>
<rect x="534" y="310" width="1" height="22" fill="#000"/>
<rect x="532" y="315" width="5" height="17" fill="#000"/>
<rect x="533" y="316" width="3" height="15" fill="#2f8a72"/>
<rect x="540" y="312" width="1" height="7" fill="#000"/>
<rect x="538" y="314" width="5" height="3" fill="#000"/>
<rect x="539" y="315" width="3" height="1" fill="#cc4b57"/>
<rect x="546" y="312" width="1" height="17" fill="#000"/>
<rect x="544" y="317" width="5" height="5" fill="#000"/>
<rect x="545" y="318" width="3" height="3" fill="#cc4b57"/>
<rect x="553" y="314" width="1" height="15" fill="#000"/>
<rect x="551" y="322" width="5" height="3" fill="#000"/>
<rect x="552" y="323" width="3" height="1" fill="#cc4b57"/>
<rect x="559" y="320" width="1" height="40" fill="#000"/>
<rect x="557" y="325" width="5" height="33" fill="#000"/>
<rect x="558" y="326" width="3" height="31" fill="#cc4b57"/>
<rect x="565" y="333" width="1" height="25" fill="#000"/>
<rect x="563" y="335" width="5" height="23" fill="#000"/>
<rect x="564" y="336" width="3" height="21" fill="#2f8a72"/>
<rect x="572" y="328" width="1" height="22" fill="#000"/>
<rect x="570" y="329" width="5" height="6" fill="#000"/>
<rect x="571" y="330" width="3" height="4" fill="#2f8a72"/>
<rect x="578" y="318" width="1" height="11" fill="#000"/>
<rect x="576" y="321" width="5" height="8" fill="#000"/>
<rect x="577" y="322" width="3" height="6" fill="#2f8a72"/>
<rect x="584" y="304" width="1" height="18" fill="#000"/>
<rect x="582" y="308" width="5" height="14" fill="#000"/>
<rect x="583" y="309" width="3" height="12" fill="#2f8a72"/>
<rect x="591" y="294" width="1" height="14" fill="#000"/>
<rect x="589" y="300" width="5" height="8" fill="#000"/>
<rect x="590" y="301" width="3" height="6" fill="#2f8a72"/>
<rect x="597" y="295" width="1" height="24" fill="#000"/>
<rect x="595" y="300" width="5" height="8" fill="#000"/>
<rect x="596" y="301" width="3" height="6" fill="#cc4b57"/>
<rect x="603" y="289" width="1" height="23" fill="#000"/>
<rect x="601" y="293" width="5" height="15" fill="#000"/>
<rect x="602" y="294" width="3" height="13" fill="#2f8a72"/>
<rect x="610" y="271" width="1" height="24" fill="#000"/>
<rect x="608" y="271" width="5" height="23" fill="#000"/>
<rect x="609" y="272" width="3" height="21" fill="#2f8a72"/>
<rect x="616" y="257" width="1" height="14" fill="#000"/>
<rect x="614" y="267" width="5" height="4" fill="#000"/>
<rect x="615" y="268" width="3" height="2" fill="#2f8a72"/>
<rect x="622" y="258" width="1" height="18" fill="#000"/>
<rect x="620" y="267" width="5" height="1" fill="#000"/>
<rect x="629" y="245" width="1" height="28" fill="#000"/>
<rect x="627" y="246" width="5" height="22" fill="#000"/>
<rect x="628" y="247" width="3" height="20" fill="#2f8a72"/>
<rect x="635" y="233" width="1" height="22" fill="#000"/>
<rect x="633" y="246" width="5" height="3" fill="#000"/>
<rect x="634" y="247" width="3" height="1" fill="#cc4b57"/>
<rect x="641" y="239" width="1" height="36" fill="#000"/>
<rect x="639" y="248" width="5" height="27" fill="#000"/>
<rect x="640" y="249" width="3" height="25" fill="#cc4b57"/>
<rect x="648" y="262" width="1" height="39" fill="#000"/>
<rect x="646" y="275" width="5" height="16" fill="#000"/>
<rect x="647" y="276" width="3" height="14" fill="#cc4b57"/>
<rect x="654" y="273" width="1" height="44" fill="#000"/>
<rect x="652" y="291" width="5" height="21" fill="#000"/>
<rect x="653" y="292" width="3" height="19" fill="#cc4b57"/>
<rect x="660" y="307" width="1" height="44" fill="#000"/>
<rect x="658" y="309" width="5" height="3" fill="#000"/>
<rect x="659" y="310" width="3" height="1" fill="#2f8a72"/>
<rect x="667" y="273" width="1" height="39" fill="#000"/>
<rect x="665" y="276" width="5" height="33" fill="#000"/>
<rect x="666" y="277" width="3" height="31" fill="#2f8a72"/>
<rect x="673" y="261" width="1" height="17" fill="#000"/>
<rect x="671" y="269" width="5" height="7" fill="#000"/>
<rect x="672" y="270" width="3" height="5" fill="#2f8a72"/>
<rect x="679" y="267" width="1" height="23" fill="#000"/>
<rect x="677" y="269" width="5" height="6" fill="#000"/>
<rect x="678" y="270" width="3" height="4" fill="#cc4b57"/>
<rect x="686" y="272" width="1" height="43" fill="#000"/>
<rect x="684" y="275" width="5" height="40" fill="#000"/>
<rect x="685" y="276" width="3" height="38" fill="#cc4b57"/>
<rect x="692" y="274" width="1" height="41" fill="#000"/>
<rect x="690" y="276" width="5" height="39" fill="#000"/>
<rect x="691" y="277" width="3" height="37" fill="#2f8a72"/>
<rect x="698" y="261" width="1" height="21" fill="#000"/>
<rect x="696" y="266" width="5" height="10" fill="#000"/>
<rect x="697" y="267" width="3" height="8" fill="#2f8a72"/>
<rect x="705" y="248" width="1" height="20" fill="#000"/>
<rect x="703" y="260" width="5" height="7" fill="#000"/>
<rect x="704" y="261" width="3" height="5" fill="#2f8a72"/>
<rect x="711" y="255" width="1" height="17" fill="#000"/>
<rect x="709" y="260" width="5" height="1" fill="#000"/>
<rect x="717" y="248" width="1" height="20" fill="#000"/>
<rect x="715" y="251" width="5" height="9" fill="#000"/>
<rect x="716" y="252" width="3" height="7" fill="#2f8a72"/>
<rect x="724" y="242" width="1" height="16" fill="#000"/>
<rect x="722" y="248" width="5" height="3" fill="#000"/>
<rect x="723" y="249" width="3" height="1" fill="#2f8a72"/>
<rect x="730" y="240" width="1" height="21" fill="#000"/>
<rect x="728" y="249" width="5" height="1" fill="#000"/>
<rect x="736" y="237" width="1" height="26" fill="#000"/>
<rect x="734" y="249" width="5" height="9" fill="#000"/>
<rect x="735" y="250" width="3" height="7" fill="#cc4b57"/>
<rect x="742" y="221" width="1" height="41" fill="#000"/>
<rect x="740" y="222" width="5" height="36" fill="#000"/>
<rect x="741" y="223" width="3" height="34" fill="#2f8a72"/>
<rect x="749" y="218" width="1" height="31" fill="#000"/>
<rect x="747" y="222" width="5" height="24" fill="#000"/>
<rect x="748" y="223" width="3" height="22" fill="#cc4b57"/>
<rect x="755" y="232" width="1" height="17" fill="#000"/>
<rect x="753" y="233" width="5" height="13" fill="#000"/>
<rect x="754" y="234" width="3" height="11" fill="#2f8a72"/>
<rect x="761" y="226" width="1" height="13" fill="#000"/>
<rect x="759" y="228" width="5" height="5" fill="#000"/>
<rect x="760" y="229" width="3" height="3" fill="#2f8a72"/>
<rect x="768" y="206" width="1" height="23" fill="#000"/>
<rect x="766" y="207" width="5" height="21" fill="#000"/>
<rect x="767" y="208" width="3" height="19" fill="#2f8a72"/>
<rect x="774" y="197" width="1" height="19" fill="#000"/>
<rect x="772" y="202" width="5" height="5" fill="#000"/>
<rect x="773" y="203" width="3" height="3" fill="#2f8a72"/>
<rect x="780" y="189" width="1" height="46" fill="#000"/>
<rect x="778" y="202" width="5" height="15" fill="#000"/>
<rect x="779" y="203" width="3" height="13" fill="#cc4b57"/>
<rect x="787" y="197" width="1" height="20" fill="#000"/>
<rect x="785" y="210" width="5" height="7" fill="#000"/>
<rect x="786" y="211" width="3" height="5" fill="#2f8a72"/>
<rect x="793" y="208" width="1" height="25" fill="#000"/>
<rect x="791" y="210" width="5" height="6" fill="#000"/>
<rect x="792" y="211" width="3" height="4" fill="#cc4b57"/>
<rect x="799" y="202" width="1" height="34" fill="#000"/>
<rect x="797" y="216" width="5" height="17" fill="#000"/>
<rect x="798" y="217" width="3" height="15" fill="#cc4b57"/>
<rect x="806" y="208" width="1" height="33" fill="#000"/>
<rect x="804" y="211" width="5" height="22" fill="#000"/>
<rect x="805" y="212" width="3" height="20" fill="#2f8a72"/>
<rect x="812" y="194" width="1" height="23" fill="#000"/>
<rect x="810" y="201" width="5" height="10" fill="#000"/>
<rect x="811" y="202" width="3" height="8" fill="#2f8a72"/>
<rect x="818" y="198" width="1" height="40" fill="#000"/>
<rect x="816" y="201" width="5" height="10" fill="#000"/>
<rect x="817" y="202" width="3" height="8" fill="#cc4b57"/>
<rect x="825" y="197" width="1" height="35" fill="#000"/>
<rect x="823" y="211" width="5" height="1" fill="#000"/>
<rect x="831" y="188" width="1" height="26" fill="#000"/>
<rect x="829" y="189" width="5" height="22" fill="#000"/>
<rect x="830" y="190" width="3" height="20" fill="#2f8a72"/>
<rect x="837" y="185" width="1" height="21" fill="#000"/>
<rect x="835" y="189" width="5" height="17" fill="#000"/>
<rect x="836" y="190" width="3" height="15" fill="#cc4b57"/>
<rect x="844" y="201" width="1" height="45" fill="#000"/>
<rect x="842" y="206" width="5" height="25" fill="#000"/>
<rect x="843" y="207" width="3" height="23" fill="#cc4b57"/>
<rect x="850" y="224" width="1" height="43" fill="#000"/>
<rect x="848" y="231" width="5" height="24" fill="#000"/>
<rect x="849" y="232" width="3" height="22" fill="#cc4b57"/>
<rect x="856" y="255" width="1" height="34" fill="#000"/>
<rect x="854" y="255" width="5" height="16" fill="#000"/>
<rect x="855" y="256" width="3" height="14" fill="#cc4b57"/>
<rect x="863" y="261" width="1" height="19" fill="#000"/>
<rect x="861" y="268" width="5" height="3" fill="#000"/>
<rect x="862" y="269" width="3" height="1" fill="#2f8a72"/>
<rect x="869" y="248" width="1" height="38" fill="#000"/>
<rect x="867" y="268" width="5" height="18" fill="#000"/>
<rect x="868" y="269" width="3" height="16" fill="#cc4b57"/>
<rect x="875" y="263" width="1" height="87" fill="#000"/>
<rect x="873" y="286" width="5" height="61" fill="#000"/>
<rect x="874" y="287" width="3" height="59" fill="#cc4b57"/>
<rect x="882" y="284" width="1" height="98" fill="#000"/>
<rect x="880" y="303" width="5" height="44" fill="#000"/>
<rect x="881" y="304" width="3" height="42" fill="#2f8a72"/>
<rect x="888" y="289" width="1" height="37" fill="#000"/>
<rect x="886" y="303" width="5" height="13" fill="#000"/>
<rect x="887" y="304" width="3" height="11" fill="#cc4b57"/>
<rect x="894" y="277" width="1" height="63" fill="#000"/>
<rect x="892" y="278" width="5" height="38" fill="#000"/>
<rect x="893" y="279" width="3" height="36" fill="#2f8a72"/>
<rect x="901" y="254" width="1" height="39" fill="#000"/>
<rect x="899" y="258" width="5" height="20" fill="#000"/>
<rect x="900" y="259" width="3" height="18" fill="#2f8a72"/>
<rect x="907" y="251" width="1" height="21" fill="#000"/>
<rect x="905" y="258" width="5" height="1" fill="#000"/>
<rect x="913" y="212" width="1" height="46" fill="#000"/>
<rect x="911" y="214" width="5" height="44" fill="#000"/>
<rect x="912" y="215" width="3" height="42" fill="#2f8a72"/>
<rect x="920" y="210" width="1" height="27" fill="#000"/>
<rect x="918" y="214" width="5" height="17" fill="#000"/>
<rect x="919" y="215" width="3" height="15" fill="#cc4b57"/>
<rect x="926" y="200" width="1" height="31" fill="#000"/>
<rect x="924" y="217" width="5" height="14" fill="#000"/>
<rect x="925" y="218" width="3" height="12" fill="#2f8a72"/>
<rect x="932" y="197" width="1" height="24" fill="#000"/>
<rect x="930" y="201" width="5" height="15" fill="#000"/>
<rect x="931" y="202" width="3" height="13" fill="#2f8a72"/>
<rect x="939" y="191" width="1" height="20" fill="#000"/>
<rect x="937" y="201" width="5" height="4" fill="#000"/>
<rect x="938" y="202" width="3" height="2" fill="#cc4b57"/>
<rect x="945" y="194" width="1" height="18" fill="#000"/>
<rect x="943" y="205" width="5" height="1" fill="#000"/>
<rect x="951" y="172" width="1" height="38" fill="#000"/>
<rect x="949" y="175" width="5" height="30" fill="#000"/>
<rect x="950" y="176" width="3" height="28" fill="#2f8a72"/>
<rect x="958" y="163" width="1" height="16" fill="#000"/>
<rect x="956" y="169" width="5" height="6" fill="#000"/>
<rect x="957" y="170" width="3" height="4" fill="#2f8a72"/>
<rect x="964" y="162" width="1" height="10" fill="#000"/>
<rect x="962" y="168" width="5" height="1" fill="#000"/>
<rect x="970" y="154" width="1" height="17" fill="#000"/>
<rect x="968" y="158" width="5" height="10" fill="#000"/>
<rect x="969" y="159" width="3" height="8" fill="#2f8a72"/>
<rect x="977" y="149" width="1" height="11" fill="#000"/>
<rect x="975" y="150" width="5" height="8" fill="#000"/>
<rect x="976" y="151" width="3" height="6" fill="#2f8a72"/>
<rect x="983" y="136" width="1" height="34" fill="#000"/>
<rect x="981" y="151" width="5" height="17" fill="#000"/>
<rect x="982" y="152" width="3" height="15" fill="#cc4b57"/>
<rect x="989" y="138" width="1" height="30" fill="#000"/>
<rect x="987" y="138" width="5" height="30" fill="#000"/>
<rect x="988" y="139" width="3" height="28" fill="#2f8a72"/>
<rect x="996" y="127" width="1" height="16" fill="#000"/>
<rect x="994" y="136" width="5" height="3" fill="#000"/>
<rect x="995" y="137" width="3" height="1" fill="#2f8a72"/>
<rect x="1002" y="133" width="1" height="27" fill="#000"/>
<rect x="1000" y="136" width="5" height="7" fill="#000"/>
<rect x="1001" y="137" width="3" height="5" fill="#cc4b57"/>
<rect x="1008" y="135" width="1" height="15" fill="#000"/>
<rect x="1006" y="144" width="5" height="4" fill="#000"/>
<rect x="1007" y="145" width="3" height="2" fill="#cc4b57"/>
<rect x="1014" y="131" width="1" height="29" fill="#000"/>
<rect x="1012" y="139" width="5" height="9" fill="#000"/>
<rect x="1013" y="140" width="3" height="7" fill="#2f8a72"/>
<rect x="1021" y="122" width="1" height="17" fill="#000"/>
<rect x="1019" y="124" width="5" height="15" fill="#000"/>
<rect x="1020" y="125" width="3" height="13" fill="#2f8a72"/>
<rect x="1027" y="105" width="1" height="21" fill="#000"/>
<rect x="1025" y="106" width="5" height="18" fill="#000"/>
<rect x="1026" y="107" width="3" height="16" fill="#2f8a72"/>
<rect x="1033" y="100" width="1" height="20" fill="#000"/>
<rect x="1031" y="106" width="5" height="3" fill="#000"/>
<rect x="1032" y="107" width="3" height="1" fill="#cc4b57"/>
<rect x="1040" y="101" width="1" height="8" fill="#000"/>
<rect x="1038" y="104" width="5" height="5" fill="#000"/>
<rect x="1039" y="105" width="3" height="3" fill="#2f8a72"/>
</g>
<line x1="926" y1="187.8" x2="1052.4" y2="81.9" stroke="#000" stroke-width="2.2" stroke-linecap="round"/>
<line x1="919" y1="240.6" x2="1071.3" y2="116.5" stroke="#000" stroke-width="2.2" stroke-linecap="round"/>
</svg>

<!-- ================= TOP BAR ================= -->
<div style="position:absolute;left:13.1px;top:6px;width:25.6px;height:25.6px;border-radius:50%;background:#a47858"></div>
<div class="t" id="t_av" style="left:20.7px;top:19.4px;font-size:17.5px;font-weight:700;color:#fff">T</div>
<div style="position:absolute;left:30.7px;top:0.4px;width:20.7px;height:18.8px;border-radius:9.4px;background:#e8394a;border:1.5px solid #fff"></div>
<div class="t" id="t_badge" style="left:36px;top:9.6px;font-size:9.5px;font-weight:700;color:#fff">11</div>
<svg width="20" height="20" style="left:60px;top:9px" viewBox="0 0 20 20"><circle cx="9.6" cy="9" r="5" class="ic" style="stroke-width:1.5"/><path d="M13.2 12.8 L17.3 17" class="ic" style="stroke-width:1.5"/></svg>
<div class="t" id="t_sym" style="left:84.5px;top:18.5px;font-size:14px;font-weight:700">NAS100</div>
<svg width="22" height="22" style="left:159px;top:8.5px" viewBox="0 0 22 22"><circle cx="11" cy="11" r="9.3" class="ic"/><path d="M11 6.6v8.8M6.6 11h8.8" class="ic"/></svg>
<div class="sep" style="left:194px;top:8px;height:22px"></div>
<div class="t" id="t_w" style="left:212px;top:18.5px;font-size:14px">W</div>
<div class="sep" style="left:240px;top:8px;height:22px"></div>
<svg width="20" height="24" style="left:254px;top:7px" viewBox="0 0 20 24"><path d="M6.8 2.5v3M6.8 18.5v3.5M14.3 5.5v3M14.3 15.5v3" class="ic"/><rect x="4.6" y="5.5" width="4.4" height="13" rx="0.8" class="ic"/><rect x="12.3" y="8.5" width="4" height="7" rx="0.8" class="ic"/></svg>
<div class="sep" style="left:287px;top:8px;height:22px"></div>
<svg width="22" height="22" style="left:301px;top:8px" viewBox="301 8 22 22"><path d="M303.2 16.7 L308.1 12 L312.8 15 L320.1 9.9" class="ic"/><rect x="303.4" y="23.4" width="4.2" height="4.1" class="ic"/><rect x="307.6" y="20.6" width="4.2" height="6.9" class="ic"/><rect x="311.8" y="22.6" width="4.2" height="4.9" class="ic"/><rect x="316" y="17.5" width="4" height="10" class="ic"/></svg>
<div class="t" id="t_ind" style="left:329px;top:18.5px;font-size:14px">Indicators</div>
<svg width="12" height="8" style="left:407.5px;top:15.5px" viewBox="0 0 12 8"><path d="M2 2 L6 5.8 L10 2" class="ic"/></svg>
<svg width="20" height="20" style="left:434px;top:9px" viewBox="0 0 20 20"><rect x="2.3" y="2.3" width="6.2" height="6.2" rx="1.6" class="ic"/><rect x="11.6" y="2.3" width="6.2" height="6.2" rx="1.6" class="ic"/><rect x="2.3" y="11.4" width="6.2" height="6.2" rx="1.6" class="ic"/><rect x="11.6" y="11.4" width="6.2" height="6.2" rx="1.6" class="ic"/></svg>
<div class="sep" style="left:467px;top:8px;height:22px"></div>
<svg width="24" height="24" style="left:479px;top:7px" viewBox="479 7 24 24"><path d="M498.7 19.7 A8.2 8.2 0 1 0 490.9 27.4" class="ic"/><path d="M490.5 14.1 V19.5 H487.2" class="ic"/><path d="M480.9 13.6 L484.7 9.6 M496.2 9.6 L499.9 13.6" class="ic"/><path d="M496.5 21.4 V29.8 M492.3 25.5 H500.9" class="ic"/></svg>
<div class="t" id="t_alert" style="left:509px;top:18.5px;font-size:14px">Alert</div>
<svg width="18" height="14" style="left:561px;top:12.5px" viewBox="0 0 18 14"><path d="M7 1.8 L1.6 7 L7 12.2Z M15 1.8 L9.6 7 L15 12.2Z" class="ic"/></svg>
<div class="t" id="t_replay" style="left:587.5px;top:18.5px;font-size:14px">Replay</div>
<div class="sep" style="left:642px;top:8px;height:22px"></div>
<svg width="18" height="14" style="left:657px;top:12px" viewBox="0 0 18 14"><path d="M5.8 1.6 L1.6 5.6 L5.8 9.6 M1.8 5.6 H10.5 C13.5 5.6 15.6 8 15.6 11.6" class="ic"/></svg>
<svg width="18" height="14" style="left:695px;top:12px" viewBox="0 0 18 14"><path d="M12.2 1.6 L16.4 5.6 L12.2 9.6 M16.2 5.6 H7.5 C4.5 5.6 2.4 8 2.4 11.6" class="ic" style="stroke:#b4b7bf"/></svg>

<svg width="22" height="20" style="left:929px;top:10px" viewBox="0 0 22 20"><rect x="1.2" y="1.2" width="18.4" height="16.4" rx="2.6" class="ic"/></svg>
<div class="t" id="t_unnamed" style="left:963.5px;top:13.7px;font-size:14px">Unnamed</div>
<div class="t" id="t_save" style="left:983px;top:26.5px;font-size:11px;color:#3a6fd6">Save</div>
<svg width="12" height="8" style="left:1034px;top:15.5px" viewBox="0 0 12 8"><path d="M2 2 L6 5.8 L10 2" class="ic"/></svg>
<div class="sep" style="left:1056px;top:8px;height:22px"></div>
<svg width="24" height="24" style="left:1068px;top:6px" viewBox="0 0 24 24"><path d="M9.5 4.2 A7.6 7.6 0 1 0 17.6 14.2" class="ic"/><path d="M15.4 17 L21.2 22.6" class="ic"/><path d="M13.6 2.2 L8.8 10.2 H12.6 L11.4 15.6 L17.6 7.6 H13.2 Z" class="ic"/></svg>
<svg width="24" height="22" style="left:1106px;top:8px" viewBox="0 0 24 22"><path d="M7 2.2 H17 L22.2 11 L17 19.8 H7 L1.8 11 Z" class="ic"/><circle cx="12" cy="11" r="3.6" class="ic"/></svg>
<svg width="20" height="20" style="left:1146px;top:9px" viewBox="0 0 20 20"><path d="M2.4 6.6V4.6A2.2 2.2 0 0 1 4.6 2.4H6.8M13.6 2.4h2.2A2.2 2.2 0 0 1 18 4.6V6.6M18 12.8v2.2A2.2 2.2 0 0 1 15.8 17.2H13.6M6.8 17.2H4.6A2.2 2.2 0 0 1 2.4 15V12.8" class="ic"/></svg>
<svg width="24" height="20" style="left:1181.5px;top:9px" viewBox="0 0 24 20"><path d="M2 7 A2.4 2.4 0 0 1 4.4 4.6 H7 L8.6 2 H15 L16.6 4.6 H19.4 A2.4 2.4 0 0 1 21.8 7 V15.2 A2.4 2.4 0 0 1 19.4 17.6 H4.4 A2.4 2.4 0 0 1 2 15.2 Z" class="ic"/><circle cx="11.9" cy="10.8" r="4" class="ic"/></svg>
<div style="position:absolute;left:1217px;top:5px;width:68.5px;height:28px;border-radius:14px;background:#2b2b2b"></div>
<div class="t" id="t_publish" style="left:1229.5px;top:18.5px;font-size:14px;color:#fff;-webkit-text-stroke:0.45px #fff">Publish</div>

<!-- ================= LEFT TOOLBAR ================= -->
<div style="position:absolute;left:9px;top:50px;width:34px;height:34px;border-radius:6px;background:#efefef"></div>
<svg width="52" height="692" style="left:0;top:42px" viewBox="0 42 52 692">
<!-- cursor -->
<path d="M19.3 59.6 V72.3 L23.2 69.3 L26.5 75.9 L29.9 74.3 L26.7 67.9 L30.7 67 Z" class="ic"/>
<!-- trend line -->
<path d="M18.9 112 L32.9 97.6" class="ic"/><circle cx="34.3" cy="96.2" r="1.9" class="ic"/><circle cx="17.5" cy="113.4" r="1.9" class="ic"/>
<!-- h lines -->
<path d="M15.2 133.3 H36.7 M15.2 139.2 H34.4 M15.2 145.2 H36.7 M17.5 151.3 H36.7" class="ic"/><circle cx="36.4" cy="139.2" r="2" class="ic" style="fill:#fff"/><circle cx="15.5" cy="151.3" r="2" class="ic" style="fill:#fff"/>
<!-- pattern -->
<path d="M17.1 189.4 L20.4 172.2 L24.5 179.6 L32.7 173.1 L35.6 186.1 L24.5 179.6 Z" class="ic"/>
<g class="ic" style="fill:#fff"><circle cx="20.4" cy="172.2" r="1.9"/><circle cx="32.7" cy="173.1" r="1.9"/><circle cx="24.5" cy="179.6" r="1.9"/><circle cx="35.6" cy="186.1" r="1.9"/><circle cx="17.1" cy="189.4" r="1.9"/></g>
<!-- prediction -->
<path d="M18.2 211.4 H35.6 M18.2 221.6 H32.4 M18.2 227.3 H35.6" class="ic"/><path d="M20.4 218.8 L34.8 213.1" class="ic" style="stroke-dasharray:1.2 2.2"/>
<g class="ic" style="fill:#fff"><circle cx="16.3" cy="211.4" r="1.9"/><circle cx="16.3" cy="221.6" r="1.9"/><circle cx="34.3" cy="221.6" r="1.9"/><circle cx="16.3" cy="227.3" r="1.9"/></g>
<!-- brush -->
<path d="M15 265.4 C17.5 259.5 20.5 255.6 24.4 255.4 C28.3 255.3 30.6 257.3 30.9 259.8 C30.6 263.2 28 265.4 24.6 265.5 Z" class="ic"/><path d="M29.2 251.5 C29.8 254 31.6 255.6 33.6 255 L39.2 249.6" class="ic"/>
<!-- text -->
<path d="M19.3 290 V286.8 H34 V290 M26.6 286.8 V303.6 M24.2 303.6 H29.1" class="ic"/>
<!-- smiley -->
<circle cx="25.8" cy="332.6" r="10.6" class="ic"/><circle cx="23.3" cy="331.2" r="0.9" fill="#1e1e1e"/><circle cx="28.6" cy="331.2" r="0.9" fill="#1e1e1e"/><path d="M22.7 335.1 C23.8 337.9 28.2 337.9 29.3 335.1" class="ic"/>
<!-- ruler -->
<path d="M33.5 372.3 L37.9 377.2 L19.3 395.7 L14.4 390.8 Z" class="ic"/><path d="M30.4 375.4 l1.7 1.7 M27.6 378.2 l2.3 2.3 M24.8 381 l1.7 1.7 M22 383.8 l2.3 2.3 M19.2 386.6 l1.7 1.7" class="ic"/>
<!-- zoom -->
<circle cx="24.5" cy="420.5" r="8.2" class="ic"/><path d="M24.5 417 v7 M21 420.5 h7 M30.4 426.4 L34 429.9" class="ic"/>
<!-- magnet -->
<path d="M18.3 481.1 V470.8 A7.85 7.7 0 0 1 34 470.8 V481.1 H29.4 V471.2 A3.25 3.2 0 0 0 22.9 471.2 V481.1 Z M18.3 477.5 H22.9 M29.4 477.5 H34" class="ic"/>
<!-- pencil + lock -->
<path d="M15.5 516.4 L16.4 511.9 L26.5 501.9 A2 2 0 0 1 29.3 501.9 L30.3 502.9 A2 2 0 0 1 30.3 505.7 L20.2 515.6 Z M16.4 511.9 L20.2 515.6" class="ic"/>
<rect x="27.6" y="515.4" width="8" height="5.8" rx="1" class="ic"/><path d="M29.4 515.4 V513.2 A2.2 2.2 0 0 1 33.8 512.6" class="ic"/><path d="M31.6 517.6 v1.4" class="ic"/>
<!-- lock -->
<rect x="18.3" y="547.7" width="15.7" height="10.6" rx="1.8" class="ic"/><path d="M22.4 547.7 V544.6 A3.9 3.9 0 0 1 30.1 543.8" class="ic"/><path d="M26.1 551.6 v2.2" class="ic" style="stroke-width:1.6"/>
<!-- eye -->
<path d="M16 582.9 C18.5 578.3 22 576 25.3 576 C28.6 576 32.1 578.3 34.6 582.9 C32.1 587.5 28.6 589.8 25.3 589.8 C22 589.8 18.5 587.5 16 582.9 Z" class="ic"/><circle cx="25.3" cy="582.9" r="3.3" class="ic"/>
<path d="M26.6 597 C27.6 594.2 30 592.8 32 593.5 C32.2 595.6 30.2 597.2 26.6 597 Z M32.3 593.2 C33.2 594 34.6 593.6 36.6 591.6" class="ic" style="stroke-width:0.9"/>
<!-- trash -->
<path d="M17.1 631.3 H35.1 M22.5 631.3 V629.6 A1 1 0 0 1 23.5 628.6 H28.4 A1 1 0 0 1 29.4 629.6 V631.3 M19.2 631.3 L20.5 645.8 A1.6 1.6 0 0 0 22.1 647.3 H29.7 A1.6 1.6 0 0 0 31.3 645.8 L32.8 631.3" class="ic"/>
</svg>
<div class="hsep" style="left:8px;top:358px;width:36px"></div>
<div class="hsep" style="left:8px;top:447px;width:36px"></div>
<div class="hsep" style="left:8px;top:612px;width:36px"></div>
<!-- window corner + pointer -->
<div style="position:absolute;left:0;top:729px;width:5px;height:5px;background:radial-gradient(circle at 100% 0,rgba(168,64,138,0) 4px,#a8408a 5.4px)"></div>
<svg width="14" height="13" style="left:1006px;top:721px" viewBox="1006 721 14 13"><path d="M1007.5 734 V722.2 L1019 734" fill="#fff" stroke="#111" stroke-width="1"/></svg>

<!-- ================= RIGHT TOOLBAR ================= -->
<svg width="45" height="692" style="left:1246px;top:42px" viewBox="1246 42 45 692">
<!-- watchlist -->
<path d="M1259.5 55.3 H1278.7 V77.2 L1269 73.2 L1259.5 77.2 Z M1263.3 60.6 H1274.8 M1263.3 64.3 H1274.8 M1263.3 68 H1274.8" class="ic"/>
<!-- alarm -->
<circle cx="1268.9" cy="111.5" r="10.7" class="ic"/><path d="M1270 106.2 V113.3 H1264.7 M1256.6 104.6 L1261.7 99.9 M1276 99.9 L1281.1 104.6" class="ic"/>
<!-- layers -->
<path d="M1268.5 148.3 L1280 154.7 L1268.5 161.2 L1257.2 154.7 Z M1257.2 160.4 L1268.5 166.8 L1280 160.4" class="ic"/>
<!-- chat -->
<path d="M1257.2 212.4 V195.6 A2.4 2.4 0 0 1 1259.6 193.2 H1274.2 A2.4 2.4 0 0 1 1276.6 195.6 V205.6 A2.4 2.4 0 0 1 1274.2 208 H1262 Z" class="ic"/>
<path d="M1276.6 201.6 H1278 A2.4 2.4 0 0 1 1280.4 204 V216.4 L1276 212.2 H1269.4 A2.6 2.6 0 0 1 1266.8 209.6 V208" class="ic"/>
<!-- target -->
<circle cx="1268.9" cy="515" r="13.7" class="ic"/><circle cx="1268.9" cy="515" r="7.5" class="ic"/><circle cx="1268.9" cy="515" r="2" fill="#1e1e1e"/><path d="M1268.9 515 L1277.4 505.8" class="ic"/>
<!-- calendar -->
<rect x="1257.3" y="551.6" width="23.4" height="20.9" rx="3.2" class="ic"/><path d="M1257.3 558.5 H1280.7" class="ic"/>
<rect x="1261.5" y="549.2" width="2.8" height="5.2" rx="1.2" class="ic" style="fill:#fff"/><rect x="1273.5" y="549.2" width="2.8" height="5.2" rx="1.2" class="ic" style="fill:#fff"/>
<!-- apps -->
<circle cx="1269" cy="606.7" r="16.8" fill="#2b2b2b"/>
<g fill="#fff"><rect x="1259.9" y="597.7" width="4.3" height="4.3" rx="0.8"/><rect x="1266.85" y="597.7" width="4.3" height="4.3" rx="0.8"/><rect x="1273.8" y="597.7" width="4.3" height="4.3" rx="0.8"/>
<rect x="1259.9" y="604.55" width="4.3" height="4.3" rx="0.8"/><rect x="1266.85" y="604.55" width="4.3" height="4.3" rx="0.8"/><rect x="1273.8" y="604.55" width="4.3" height="4.3" rx="0.8"/>
<rect x="1259.9" y="611.4" width="4.3" height="4.3" rx="0.8"/><rect x="1266.85" y="611.4" width="4.3" height="4.3" rx="0.8"/><rect x="1273.8" y="611.4" width="4.3" height="4.3" rx="0.8"/></g>
<!-- signal -->
<circle cx="1260" cy="671.7" r="1.7" class="ic"/><path d="M1259.6 664.9 A7 7 0 0 1 1266.9 672.4 M1259.6 658.6 A13.3 13.3 0 0 1 1273.2 672.4 M1259.6 652.4 A19.6 19.6 0 0 1 1279.5 673.2" class="ic"/>
<!-- help -->
<path d="M1275.4 697 A14.3 14.3 0 0 0 1254.9 712.4 M1260.3 721 A14.3 14.3 0 0 0 1282.9 706.2" class="ic"/>
<path d="M1265.2 705.6 A3.9 3.9 0 1 1 1270.9 709.2 C1269.6 710 1269.1 710.8 1269.1 712.4" class="ic"/><circle cx="1269.1" cy="716" r="1.2" class="ic"/>
<path d="M1279.9 695.6 L1281 698.6 L1284 699.7 L1281 700.8 L1279.9 703.8 L1278.8 700.8 L1275.8 699.7 L1278.8 698.6 Z" class="ic" style="fill:#fff"/>
<path d="M1257.4 714.4 L1258.3 716.7 L1260.6 717.6 L1258.3 718.5 L1257.4 720.8 L1256.5 718.5 L1254.2 717.6 L1256.5 716.7 Z" class="ic" style="fill:#fff"/>
</svg>
<div class="hsep" style="left:1252px;top:635px;width:33px"></div>
<div style="position:absolute;left:1284px;top:727px;width:7px;height:7px;background:radial-gradient(circle at 0 0,rgba(58,10,40,0) 5.6px,#f0c0e0 6.4px,#3a0a28 7.6px)"></div>

<!-- ================= CHART UI ================= -->
<!-- legend -->
<div id="legendfade" style="position:absolute;left:56px;top:93px;width:104px;height:3px;background:rgba(255,255,255,0.55)"></div>
<div style="position:absolute;left:64px;top:49.5px;width:20px;height:17px;background:#d5efea;border-radius:8.5px 0 0 8.5px"></div>
<div style="position:absolute;left:84px;top:49.5px;width:20px;height:17px;background:#fbd5e3;border-radius:0 8.5px 8.5px 0"></div>
<div style="position:absolute;left:71px;top:54px;width:8px;height:8px;border-radius:50%;background:#1c977f"></div>
<div class="t" id="t_approx" style="left:88px;top:58px;font-size:15px;font-weight:700;color:#d23a74">≈</div>
<div class="t" id="t_o" style="left:112.4px;top:58px;font-size:13px">O24,543.84</div>
<div class="t" id="t_h" style="left:185.6px;top:58px;font-size:13px">H24,789.28</div>
<div class="t" id="t_l" style="left:258px;top:58px;font-size:13px">L24,537.08</div>
<div class="t" id="t_c" style="left:329.5px;top:58px;font-size:13px">C24,681.66</div>
<div class="t" id="t_chg" style="left:402px;top:58px;font-size:13px">+137.82</div>
<div class="t" id="t_pct" style="left:451.8px;top:58px;font-size:13px">(+0.56%)</div>
<div class="t" id="t_vol" style="left:65.6px;top:82px;font-size:13px">Vol</div>
<div class="t" id="t_volv" style="left:91px;top:82px;font-size:13px;color:#3aa18e">451.45 K</div>
<div class="t" id="t_ema1" style="left:65.6px;top:106.3px;font-size:13px">EMA</div>
<div class="t" id="t_ema1v" style="left:97.4px;top:106.3px;font-size:13px;color:#d0525c">21,673.82</div>
<div class="t" id="t_ema2" style="left:65.6px;top:130.3px;font-size:13px">EMA</div>
<div class="t" id="t_ema2v" style="left:98px;top:130.3px;font-size:13px;color:#4b4ab0">17,501.63</div>
<div style="position:absolute;left:64px;top:145px;width:28.5px;height:20px;border:1px solid #dcdcdc;border-radius:3px;background:#fff"></div>
<svg width="12" height="8" style="left:72.5px;top:151.5px" viewBox="0 0 12 8"><path d="M2.6 5.6 L6 2.2 L9.4 5.6" class="ic" style="stroke-width:1.5"/></svg>

<!-- price axis plain labels -->
<div class="t" id="t_p26" style="left:1179px;top:59.5px;font-size:12px">26,000.00</div>
<div class="t" id="t_p24" style="left:1179px;top:126px;font-size:12px">24,000.00</div>
<div class="t" id="t_p23" style="left:1179px;top:159px;font-size:12px">23,000.00</div>
<div class="t" id="t_p22" style="left:1179px;top:192.3px;font-size:12px">22,000.00</div>
<div class="t" id="t_p21" style="left:1179px;top:225.5px;font-size:12px">21,000.00</div>
<div class="t" id="t_p20" style="left:1179px;top:258.8px;font-size:12px">20,000.00</div>
<div class="t" id="t_p19" style="left:1179px;top:292px;font-size:12px">19,000.00</div>
<div class="t" id="t_p18" style="left:1179px;top:325.2px;font-size:12px">18,000.00</div>
<div class="t" id="t_p17" style="left:1179px;top:358.4px;font-size:12px">17,000.00</div>
<div class="t" id="t_p16" style="left:1179px;top:391.6px;font-size:12px">16,000.00</div>
<div class="t" id="t_p15" style="left:1179px;top:424.9px;font-size:12px">15,000.00</div>
<div class="t" id="t_p14" style="left:1179px;top:458.1px;font-size:12px">14,000.00</div>
<div class="t" id="t_p13" style="left:1179px;top:491.3px;font-size:12px">13,000.00</div>
<div class="t" id="t_p12" style="left:1179px;top:524.5px;font-size:12px">12,000.00</div>
<div class="t" id="t_p11" style="left:1179px;top:557.7px;font-size:12px">11,000.00</div>
<div class="t" id="t_p10" style="left:1179px;top:591px;font-size:12px">10,000.00</div>
<!-- colored labels -->
<div class="lab" style="top:79.3px;background:#2b5fdf"></div>
<div class="t" id="t_l25" style="left:1179.5px;top:87.1px;font-size:12px;color:#fff;-webkit-text-stroke:0.25px #fff">25,000.00</div>
<div class="lab" style="top:96px;height:30.5px;background:#0f9b7e;line-height:15px"></div>
<div class="t" id="t_lcur" style="left:1179.5px;top:103.3px;font-size:12px;color:#fff;-webkit-text-stroke:0.25px #fff">24,681.66</div>
<div class="t" id="t_cd" style="left:1179.5px;top:118.5px;font-size:12px;color:#b5f0e0">4d 6h</div>
<div class="lab" style="top:144.3px;background:#2b5fdf"></div>
<div class="t" id="t_l2325" style="left:1179.5px;top:152.1px;font-size:12px;color:#fff;-webkit-text-stroke:0.25px #fff">23,250.00</div>
<div class="lab" style="top:177.3px;background:#2b5fdf"></div>
<div class="t" id="t_l2225" style="left:1179.5px;top:185.1px;font-size:12px;color:#fff;-webkit-text-stroke:0.25px #fff">22,250.00</div>
<div class="lab" style="top:195.8px;background:#e23645"></div>
<div class="t" id="t_lema1" style="left:1179.5px;top:203.6px;font-size:12px;color:#fff;-webkit-text-stroke:0.25px #fff">21,673.82</div>
<div class="lab" style="top:219px;background:#2b5fdf"></div>
<div class="t" id="t_l21" style="left:1179.5px;top:226.8px;font-size:12px;color:#fff;-webkit-text-stroke:0.25px #fff">21,000.00</div>
<div class="lab" style="top:335.3px;background:#3a3adf"></div>
<div class="t" id="t_lema2" style="left:1179.5px;top:343.1px;font-size:12px;color:#fff;-webkit-text-stroke:0.25px #fff">17,501.63</div>
<div class="lab" style="top:609px;height:15.6px;line-height:15px;width:58px;background:#27a59a;"></div>
<div class="t" id="t_lvol" style="left:1179.5px;top:616.8px;font-size:12px;color:#fff;font-weight:700;">451.45 K</div>

<!-- time axis -->
<div class="t tx" id="t_y23" style="left:122px;top:639px;font-size:12px;font-weight:400;-webkit-text-stroke:0.4px #161616">2023</div>
<div class="t tx" id="t_j23" style="left:292.8px;top:639px;font-size:12px">Jul</div>
<div class="t tx" id="t_y24" style="left:451px;top:639px;font-size:12px;font-weight:400;-webkit-text-stroke:0.4px #161616">2024</div>
<div class="t tx" id="t_j24" style="left:621.8px;top:639px;font-size:12px">Jul</div>
<div class="t tx" id="t_y25" style="left:786px;top:639px;font-size:12px;font-weight:400;-webkit-text-stroke:0.4px #161616">2025</div>
<div class="t tx" id="t_j25" style="left:957px;top:639px;font-size:12px">Jul</div>
<div class="t tx" id="t_y26" style="left:1115px;top:639px;font-size:12px;font-weight:400;-webkit-text-stroke:0.4px #161616">2026</div>
<svg width="18" height="16" style="left:1198px;top:631px" viewBox="0 0 18 16"><path d="M5.2 1.9 H12.8 L16.4 8 L12.8 14.1 H5.2 L1.6 8 Z" class="ic"/><circle cx="9" cy="8" r="2.3" class="ic"/></svg>

<!-- logo -->
<svg width="170" height="30" style="left:60px;top:588px" viewBox="60 588 170 30">
<g stroke="#fff" stroke-width="2.4" stroke-linejoin="round" fill="#fff"><path d="M68.1 596.2 H80.2 V610.8 H73.9 V602.4 H68.1 Z"/><circle cx="85.1" cy="599" r="2.8"/><path d="M90.4 596.2 H97.7 L91.4 610.8 H84.4 Z"/></g>
<g fill="#131313"><path d="M68.1 596.2 H80.2 V610.8 H73.9 V602.4 H68.1 Z"/><circle cx="85.1" cy="599" r="2.8"/><path d="M90.4 596.2 H97.7 L91.4 610.8 H84.4 Z"/></g>
<text id="t_logo" x="105" y="610.8" font-family="Liberation Sans, sans-serif" font-weight="700" font-size="20.4" fill="#131313" stroke="#fff" stroke-width="2.6" stroke-linejoin="round" paint-order="stroke" textLength="121" lengthAdjust="spacingAndGlyphs">TradingView</text>
</svg>

<!-- event icons -->
<svg width="26" height="50" style="left:1027px;top:575px" viewBox="1027 575 26 50">
<circle cx="1040.3" cy="587.3" r="10.9" fill="#fff"/><circle cx="1040.3" cy="587.3" r="9.8" fill="#fff" stroke="#7a2d9e" stroke-width="1.3"/>
<path d="M1042.6 582 L1036.4 588.3 H1039.8 L1037.6 592.8 L1044 586.4 H1040.6 Z" fill="#7a2d9e"/>
<circle cx="1040" cy="611.9" r="10.9" fill="#fff"/><circle cx="1040" cy="611.9" r="9.8" fill="#fff" stroke="#cc4c57" stroke-width="1.3"/>
<clipPath id="fc"><circle cx="1040" cy="611.9" r="7.9"/></clipPath>
<g clip-path="url(#fc)"><rect x="1030" y="602" width="20" height="20" fill="#fff"/><rect x="1030" y="604" width="20" height="2.3" fill="#e25a55"/><rect x="1030" y="608.6" width="20" height="2.3" fill="#e25a55"/><rect x="1030" y="613.2" width="20" height="2.3" fill="#e25a55"/><rect x="1030" y="617.4" width="20" height="2.6" fill="#e25a55"/><rect x="1030" y="602" width="11.4" height="11" fill="#3f7fd8"/>
<g fill="#cfe2fa"><rect x="1033.3" y="606" width="1.3" height="1.1"/><rect x="1036.1" y="606" width="1.3" height="1.1"/><rect x="1038.9" y="606" width="1.3" height="1.1"/><rect x="1033.3" y="608.4" width="1.3" height="1.1"/><rect x="1036.1" y="608.4" width="1.3" height="1.1"/><rect x="1038.9" y="608.4" width="1.3" height="1.1"/><rect x="1033.3" y="610.8" width="1.3" height="1.1"/><rect x="1036.1" y="610.8" width="1.3" height="1.1"/><rect x="1038.9" y="610.8" width="1.3" height="1.1"/></g></g>
</svg>

<!-- ================= BOTTOM ================= -->
<div class="hsep" style="left:56px;top:653px;width:1186px;background:#ececec"></div>
<div class="t" id="t_1d" style="left:71px;top:673px;font-size:14px">1D</div>
<div class="t" id="t_5d" style="left:99px;top:673px;font-size:14px">5D</div>
<div class="t" id="t_1m" style="left:127.2px;top:673px;font-size:14px">1M</div>
<div class="t" id="t_3m" style="left:155.6px;top:673px;font-size:14px">3M</div>
<div class="t" id="t_6m" style="left:185px;top:673px;font-size:14px">6M</div>
<div class="t" id="t_ytd" style="left:214.2px;top:673px;font-size:14px">YTD</div>
<div class="t" id="t_1y" style="left:251.5px;top:673px;font-size:14px">1Y</div>
<div class="t" id="t_5y" style="left:278.5px;top:673px;font-size:14px">5Y</div>
<div class="t" id="t_all" style="left:305px;top:673px;font-size:14px">All</div>
<div class="sep" style="left:332px;top:662px;height:21px"></div>
<svg width="24" height="24" style="left:344px;top:660px" viewBox="344 660 24 24"><path d="M347.5 670.4 V667.2 A2.2 2.2 0 0 1 349.7 665 H362.2 A2.2 2.2 0 0 1 364.4 667.2 V678.3 A2.2 2.2 0 0 1 362.2 680.5 H357.5 M347.5 670.4 H364.4 M352 662.4 V668 M360 662.4 V668 M346.3 676.8 H355.3 M352.6 674 L355.4 676.8 L352.6 679.6" class="ic"/></svg>
<div class="t" id="t_clock" style="left:1149px;top:673px;font-size:14px">15:30:10 UTC</div>
<div class="t" id="t_pine" style="left:72.3px;top:715.2px;font-size:14.5px">Pine Editor</div>
<div class="t" id="t_tp" style="left:173.2px;top:715.2px;font-size:14.5px">Trading Panel</div>
<svg width="20" height="10" style="left:1178px;top:708.5px" viewBox="0 0 20 10"><path d="M0.9 8.2 L9.4 1.9 L18 8.2" class="ic"/></svg>
<svg width="18" height="17" style="left:1214px;top:706.5px" viewBox="0 0 18 17"><path d="M1.4 5.3 V3.6 A2.6 2.6 0 0 1 4 1 H14 A2.6 2.6 0 0 1 16.6 3.6 V5.3 M16.6 11.7 V13.3 A2.6 2.6 0 0 1 14 15.9 H4 A2.6 2.6 0 0 1 1.4 13.3 V11.7" class="ic"/></svg>


</body>
</html>
